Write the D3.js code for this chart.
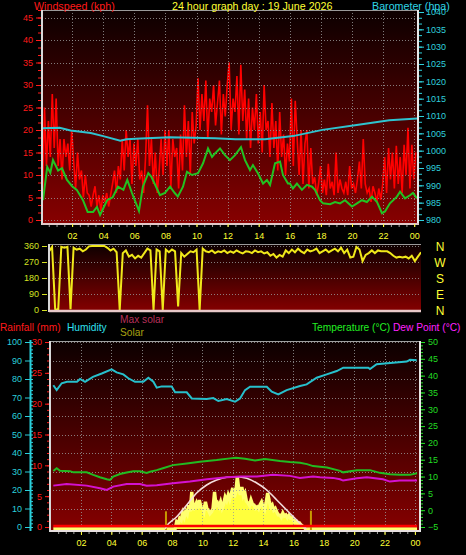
<!DOCTYPE html>
<html><head><meta charset="utf-8">
<script src="https://cdn.jsdelivr.net/npm/d3@7/dist/d3.min.js"></script>
<style>html,body{margin:0;padding:0;background:#000;overflow:hidden}svg{display:block}</style>
</head><body>
<svg id="c" width="466" height="555"></svg>
<script>
// ---------------- DATA ----------------
const hourTicks = [2,4,6,8,10,12,14,16,18,20,22,24];
const hourLabels = ["02","04","06","08","10","12","14","16","18","20","22","00"];

// wind gust (kph), every 0.125 h starting 0.1 h
const gustStart = 0.1, gustStep = 0.125;
const windGust = [
 5,25,12,22,14,28,16,27,
 12,18,9,18,14,17,11,20,
 13,7,15,9,11,5,10,6,
 5.5,3,5.5,7.5,3,5.5,2,5.5,
 4,6,3,5.5,8,11,6,12,
 9,18,11,20,14,18,8,17,
 12,18,9,11,6,14,25.5,12,
 18,8,15,6,11,18,10,20,
 12,20,7,18,14,16,7,19,
 11,25.5,14,22,10,24,17,21,
 31.5,20,28,22,31,18,27,24,
 30,21,26,31,19,28,23,30,
 35,20,27,24,32,19,34.5,22,
 29,18,27,16,25,20,28,17,
 24,15,30,20,22,14,26,16,
 22,11,24,14,19,10,17,13,
 27,12,26.5,18,10,20,8,17,
 20,7,16,8,9.5,5.5,8,12,
 6,9,5.5,12.5,7,8.5,5.5,15,
 6,9,7,6,8.5,5.5,12,7,
 8,6,9,13,7,18,8,6,
 7,4,7.5,6,4,7,4.5,8,
 14,6,16,9,15,7,16.5,8,
 14,6,16.7,10,20.5,7,16.7,9,
 15];

// average wind speed (kph)
const avgWindHours = [0.13,0.4,0.6,0.77,1.1,1.35,1.67,2.0,2.3,2.7,3.0,3.35,3.6,3.8,4.25,4.6,4.95,5.3,5.55,5.85,6.2,6.3,6.55,6.9,7.1,7.45,7.65,
 7.97,8.3,8.6,8.8,9.13,9.39,9.71,10.1,10.42,10.74,11.0,11.19,11.51,11.83,12.15,12.48,12.86,13.12,13.44,13.63,13.95,14.28,14.53,14.73,15.05,15.37,15.56,15.88,
 16.01,16.2,16.46,16.78,17.1,17.43,17.62,17.94,18.14,18.59,18.91,19.23,19.55,20.0,20.32,20.64,20.96,21.29,21.61,21.93,22.12,22.44,22.89,23.09,23.41,23.73,23.92,24.18];
const avgWind = [4.4,11.8,10.5,13.3,11,11.5,8.9,7.5,6.7,4.4,1.8,1.8,2.9,1.1,4.4,5,7.4,6.7,8.9,6,2.9,2,7.4,10.4,9.6,7,5.5,
 6,7.4,6,5.2,7.4,10.7,10,10.4,12.6,15.9,14,14.8,15.9,14.4,13.3,14.4,16.2,13.3,11.1,12.2,10.4,8.1,8.9,7.8,12.6,13,10,8.1,
 8.1,7,8.1,6.7,7.8,7.4,6.7,4.4,3.7,3.5,4,3.7,4.4,3,3.7,4.4,4,5.2,4,1.5,1.9,3.7,5.2,6.3,4.8,5.5,6,4.8];

// barometer (hPa)
const baroHours = [0.1,1.2,1.9,3.2,4.0,5.1,5.5,6.4,8.3,11.2,12.5,14.4,16.2,18.1,20.3,22.4,24.2];
const baro = [1006.5,1006.6,1005.8,1005.1,1004.2,1002.9,1003.3,1003.5,1003.9,1003.6,1003.3,1003.3,1004.2,1006,1007.4,1008.8,1009.3];

// wind direction (deg), every 0.2 h from 0
const dirStep = 0.2;
const windDir = [
 330,355,5,0,355,350,355,5,350,340,
 345,330,340,358,360,360,360,360,360,350,
 335,345,325,0,320,335,300,310,290,305,
 295,320,345,335,0,340,330,0,340,325,
 340,330,20,320,300,315,330,325,340,0,
 345,330,325,335,320,330,325,335,320,330,
 322,335,325,318,330,328,320,335,325,330,
 318,325,305,315,295,310,300,335,320,340,
 325,345,330,320,340,330,335,345,320,330,
 340,325,335,345,330,350,320,340,295,300,
 355,340,275,310,320,335,320,335,330,330,
 330,320,305,295,300,295,300,290,305,275,
 300,325];
const compassLabels = ["N","W","S","E","N"];
const compassDegrees = [360,270,180,90,0];

// humidity (%)
const humHours = [0.18,0.4,0.73,1.08,1.74,1.94,2.27,2.79,3.37,4.02,4.35,4.79,5.12,5.56,6.11,6.44,6.77,6.99,7.32,7.98,8.2,8.97,9.3,10.28,10.72,11.05,11.6,12.15,12.48,12.81,13.14,14.24,14.57,15.0,15.55,16.43,16.87,17.53,18.19,18.85,19.28,20.93,21.04,21.48,23.46,23.68,24.12];
const humidity = [76.6,74,77.7,78.5,78.5,80,78.5,81.2,83,85.2,83.6,82.5,80.4,78.5,78.5,80.7,78.5,75.3,76,76,72.8,72.8,69.5,69.2,69.7,68.1,69.2,67.7,69.5,74,75.8,75.8,73.1,71.7,74,76.2,77.1,80.7,82.5,84.3,86.1,86.1,85.4,88,89.4,90.4,90.2];

// temperature (°C)
const tempHours = [0.18,0.4,0.62,1.28,1.5,2.38,2.81,3.25,3.7,3.91,4.13,4.57,5.01,5.45,5.89,6.33,6.55,6.99,7.4,8.06,8.97,9.84,10.94,11.82,12.21,12.81,13.47,14.12,15.11,15.77,16.43,16.89,17.29,18.21,19.07,19.27,20.18,21.04,21.69,22.35,23.0,23.66,24.14];
const temperature = [11.65,12.45,11.7,11.6,11.25,11.25,10.5,9.8,9.2,9.0,10,10.75,11.2,11.6,11.6,11.1,11.4,11.9,12.45,13.4,13.9,14.4,14.9,15.4,15.6,15.3,14.8,15.2,14.6,14.3,14.1,13.7,13.1,12.7,11.7,11.25,11.9,11.9,11.1,10.7,10.5,10.5,11];

// dew point (°C)
const dewHours = [0.18,1.06,2.38,3.25,3.7,4.13,5.01,5.89,6.33,6.99,8.06,9.18,10.3,11.62,12.48,13.6,14.65,15.77,16.43,17.29,17.75,18.6,19.07,19.27,20.18,20.84,21.9,22.35,23.0,24.14];
const dewPoint = [7.3,7.8,7.3,6.5,6.0,7.0,7.8,7.8,7.3,7.4,8,8.5,9.2,9.8,10,10,10.5,10.2,9.6,10,9.8,9.6,9.2,8.8,9.5,9.8,9.2,8.5,8.8,8.8];

// rainfall (mm)
const rainHours = [0.18,24.14];
const rainfall = [0,0];

// solar radiation (W/m2)
const solarHours = [0.18,8.1,8.2,8.3,8.4,8.5,8.6,8.7,8.8,8.9,
 9.0,9.1,9.2,9.3,9.4,9.5,9.6,9.7,9.8,9.9,
 10.0,10.1,10.2,10.3,10.4,10.5,10.6,10.7,10.8,10.9,
 11.0,11.1,11.2,11.3,11.4,11.5,11.6,11.7,11.8,11.9,
 12.0,12.1,12.2,12.3,12.4,12.5,12.6,12.7,12.8,12.9,
 13.0,13.1,13.2,13.3,13.4,13.5,13.6,13.7,13.8,13.9,
 14.0,14.1,14.2,14.3,14.4,14.5,14.6,14.7,14.8,14.9,
 15.0,15.1,15.2,15.3,15.4,15.5,15.6,15.7,15.8,15.9,
 16.0,16.1,16.2,16.3,16.4,16.5,16.6,16.7,16.8,16.9,24.14];
const solar = [0,0,0,120,90,180,150,270,200,300,
 250,400,300,630,320,380,440,350,490,380,
 370,300,460,340,320,260,290,350,630,400,
 440,380,460,356,420,540,480,576,500,600,
 695,540,620,881,661,580,712,560,610,470,
 441,400,492,420,407,350,373,340,410,458,
 380,330,450,610,480,373,407,320,350,288,
 240,237,200,271,220,237,190,230,186,190,
 150,119,130,90,100,68,50,30,0,0,0];
const solarSpikeHours = [7.6,17.15];
const solarSpike = [300,310];

// theoretical max solar (W/m2)
const maxSolarHours = [7.55,7.63,8.31,8.97,9.62,10.28,10.94,11.6,12.26,12.92,13.58,14.24,14.9,15.55,16.21,16.76,16.85];
const maxSolar = [0,39,208,407,610,746,831,876,886,859,780,661,492,322,153,17,0];

// ---------------- DRAWING ----------------
const FONT = "'Liberation Sans', Arial, sans-serif";
const svg = d3.select("#c");
const defs = svg.append("defs");
const grad = defs.append("linearGradient").attr("id","bg").attr("x1",0).attr("y1",0).attr("x2",0).attr("y2",1);
grad.append("stop").attr("offset","0%").attr("stop-color","#0c0000");
grad.append("stop").attr("offset","100%").attr("stop-color","#860000");

function panel(id, x0, y0, x1, y1) {
  defs.append("clipPath").attr("id", id).append("rect").attr("x", x0).attr("y", y0).attr("width", x1 - x0).attr("height", y1 - y0);
  svg.append("rect").attr("x", x0).attr("y", y0).attr("width", x1 - x0).attr("height", y1 - y0).attr("fill", "url(#bg)");
}
function styleAxis(g, color, size) {
  g.select(".domain").remove();
  g.selectAll("line").attr("stroke", color).attr("stroke-width", 1);
  g.selectAll("text").attr("fill", color).attr("font-family", FONT).attr("font-size", size);
  g.attr("font-family", FONT).attr("font-size", size);
}
function gridH(vals, y, x0, x1) {
  svg.append("g").selectAll("line").data(vals).join("line")
    .attr("x1", x0).attr("x2", x1).attr("y1", d => Math.round(y(d)) + 0.5).attr("y2", d => Math.round(y(d)) + 0.5)
    .attr("stroke", "#9a9a9a").attr("stroke-dasharray", "1,2").attr("stroke-width", 1).attr("opacity", 0.8);
}
function gridV(vals, x, y0, y1) {
  svg.append("g").selectAll("line").data(vals).join("line")
    .attr("y1", y0).attr("y2", y1).attr("x1", d => Math.round(x(d)) + 0.5).attr("x2", d => Math.round(x(d)) + 0.5)
    .attr("stroke", "#9a9a9a").attr("stroke-dasharray", "1,2").attr("stroke-width", 1).attr("opacity", 0.8);
}
function text(str, x, y, color, size, anchor) {
  return svg.append("text").attr("x", x).attr("y", y).attr("fill", color)
    .attr("font-family", FONT).attr("font-size", size).attr("text-anchor", anchor || "start").text(str);
}

// ===== TOP PANEL =====
const T = {x0: 42, y0: 10, x1: 418, y1: 223};
const xTop = d3.scaleLinear().domain([0, 24]).range([41, 414.2]);
const yWind = d3.scaleLinear().domain([0, 45]).range([220, 17.5]);
const yBaro = d3.scaleLinear().domain([980, 1040]).range([220, 12]);
panel("clipTop", T.x0, T.y0, T.x1, T.y1);

const gustData = windGust.map((v, i) => [gustStart + i * gustStep, v]);
svg.append("path").datum(gustData).attr("clip-path", "url(#clipTop)")
  .attr("d", d3.line().x(d => xTop(d[0])).y(d => yWind(d[1])))
  .attr("fill", "none").attr("stroke", "#ff0000").attr("stroke-width", 1.6).attr("stroke-linejoin", "miter");

gridH(d3.range(0, 46, 5), yWind, T.x0, T.x1);
gridV(hourTicks, xTop, T.y0, T.y1);

svg.append("path").datum(avgWindHours.map((h, i) => [h, avgWind[i]])).attr("clip-path", "url(#clipTop)")
  .attr("d", d3.line().x(d => xTop(d[0])).y(d => yWind(d[1])))
  .attr("fill", "none").attr("stroke", "#22c222").attr("stroke-width", 2);
svg.append("path").datum(baroHours.map((h, i) => [h, baro[i]])).attr("clip-path", "url(#clipTop)")
  .attr("d", d3.line().x(d => xTop(d[0])).y(d => yBaro(d[1])))
  .attr("fill", "none").attr("stroke", "#2fc3cf").attr("stroke-width", 2);

// frame
svg.append("line").attr("x1", T.x0).attr("x2", T.x1).attr("y1", T.y0 + 0.5).attr("y2", T.y0 + 0.5).attr("stroke", "#9a9a9a");
svg.append("line").attr("x1", T.x0).attr("x2", T.x0).attr("y1", T.y0).attr("y2", T.y1 + 2).attr("stroke", "#d8d8d8").attr("stroke-width", 2);
svg.append("line").attr("x1", T.x1).attr("x2", T.x1).attr("y1", T.y0).attr("y2", T.y1 + 2).attr("stroke", "#e8e8e8").attr("stroke-width", 2);
svg.append("line").attr("x1", T.x0).attr("x2", T.x1 + 1).attr("y1", T.y1 + 1).attr("y2", T.y1 + 1).attr("stroke", "#e0c8c8").attr("stroke-width", 2);

// axes top
let g = svg.append("g").attr("transform", `translate(${T.x0 - 1},0)`)
  .call(d3.axisLeft(yWind).tickValues(d3.range(0, 46, 5)).tickSize(5).tickPadding(3));
styleAxis(g, "#ff1a1a", 9);
g = svg.append("g").attr("transform", `translate(${T.x0 - 1},0)`)
  .call(d3.axisLeft(yWind).tickValues(d3.range(0, 46.7, 5 / 3)).tickSize(3).tickFormat(""));
styleAxis(g, "#ff1a1a", 9);
g = svg.append("g").attr("transform", `translate(${T.x1 + 1},0)`)
  .call(d3.axisRight(yBaro).tickValues(d3.range(980, 1041, 5)).tickSize(5).tickPadding(2).tickFormat(d3.format("d")));
styleAxis(g, "#2fd0dc", 9);
g = svg.append("g").attr("transform", `translate(${T.x1 + 1},0)`)
  .call(d3.axisRight(yBaro).tickValues(d3.range(980, 1040.5, 5 / 3)).tickSize(3).tickFormat(""));
styleAxis(g, "#2fd0dc", 9);
g = svg.append("g").attr("transform", `translate(0,${T.y1 + 2})`)
  .call(d3.axisBottom(xTop).tickValues(d3.range(0.5, 24.3, 0.5)).tickSize(2).tickFormat(""));
styleAxis(g, "#a0a0a0", 9);
g = svg.append("g").attr("transform", `translate(0,${T.y1 + 1})`)
  .call(d3.axisBottom(xTop).tickValues(hourTicks).tickSize(3).tickPadding(6).tickFormat((d, i) => hourLabels[i]));
styleAxis(g, "#ffff33", 9);

text("Windspeed (kph)", 34, 10, "#ff1a1a", 10.7);
text("24 hour graph day : 19 June 2026", 172, 10, "#ffff33", 10.7);
text("Barometer (hpa)", 372, 10, "#2fd6e6", 10.7);

// ===== DIRECTION PANEL =====
const D = {x0: 49, y0: 244, x1: 421, y1: 312};
const xDir = d3.scaleLinear().domain([0, 24.2]).range([49, 421]);
const yDir = d3.scaleLinear().domain([0, 360]).range([310, 246]);
panel("clipDir", D.x0, D.y0, D.x1, D.y1);
gridH([90, 180, 270, 360], yDir, D.x0, D.x1);
svg.append("path").datum(windDir.map((v, i) => [i * dirStep, v])).attr("clip-path", "url(#clipDir)")
  .attr("d", d3.line().x(d => xDir(d[0])).y(d => yDir(d[1])))
  .attr("fill", "none").attr("stroke", "#f0e81a").attr("stroke-width", 2);
svg.append("line").attr("x1", D.x0).attr("x2", D.x1).attr("y1", D.y0 + 0.5).attr("y2", D.y0 + 0.5).attr("stroke", "#9a9a9a");
svg.append("line").attr("x1", D.x0).attr("x2", D.x0).attr("y1", D.y0).attr("y2", D.y1).attr("stroke", "#d8d8d8").attr("stroke-width", 2);
svg.append("line").attr("x1", D.x0).attr("x2", D.x1).attr("y1", D.y1 - 1).attr("y2", D.y1 - 1).attr("stroke", "#e8c8c8").attr("stroke-width", 2.5);
g = svg.append("g").attr("transform", `translate(${D.x0 - 2},0)`)
  .call(d3.axisLeft(yDir).tickValues([0, 90, 180, 270, 360]).tickSize(5).tickPadding(3));
styleAxis(g, "#d4e020", 9);
svg.append("g").selectAll("text").data(compassLabels).join("text")
  .attr("x", 440).attr("y", (d, i) => yDir(compassDegrees[i]) + 5)
  .attr("text-anchor", "middle").attr("fill", "#ffff33").attr("font-family", FONT).attr("font-size", 12).text(d => d);

// ===== BOTTOM PANEL =====
const B = {x0: 50, y0: 341, x1: 420, y1: 531};
const xBot = d3.scaleLinear().domain([0, 24]).range([50.6, 414.9]);
const yHum = d3.scaleLinear().domain([0, 100]).range([527, 342]);
const yRain = d3.scaleLinear().domain([0, 30]).range([527, 342]);
const yTemp = d3.scaleLinear().domain([-5, 50]).range([527, 342]);
const ySolar = d3.scaleLinear().domain([0, 1000]).range([529, 470]);
panel("clipBot", B.x0, B.y0, B.x1, B.y1);

const solarData = solarHours.map((h, i) => [h, solar[i]]);
svg.append("path").datum(solarData).attr("clip-path", "url(#clipBot)")
  .attr("d", d3.area().x(d => xBot(d[0])).y0(ySolar(0)).y1(d => ySolar(d[1])))
  .attr("fill", "#ffff3c");
svg.append("path").datum(solarData).attr("clip-path", "url(#clipBot)")
  .attr("d", d3.line().x(d => xBot(d[0])).y(d => ySolar(d[1])))
  .attr("fill", "none").attr("stroke", "#ffff70").attr("stroke-width", 3.4);
svg.append("g").selectAll("line").data(solarSpikeHours).join("line")
  .attr("x1", d => xBot(d)).attr("x2", d => xBot(d)).attr("y1", ySolar(0) + 1).attr("y2", (d, i) => ySolar(solarSpike[i]))
  .attr("stroke", "#c89a00").attr("stroke-width", 2);

gridH(d3.range(10, 101, 10), yHum, B.x0, B.x1);
gridV(hourTicks, xBot, B.y0, B.y1 - 4);

svg.append("path").datum(maxSolarHours.map((h, i) => [h, maxSolar[i]])).attr("clip-path", "url(#clipBot)")
  .attr("d", d3.line().x(d => xBot(d[0])).y(d => ySolar(d[1])).curve(d3.curveMonotoneX))
  .attr("fill", "none").attr("stroke", "#f4dcdc").attr("stroke-width", 1.6);

svg.append("path").datum(rainHours.map((h, i) => [h, rainfall[i]])).attr("clip-path", "url(#clipBot)")
  .attr("d", d3.line().x(d => xBot(d[0])).y(d => yRain(d[1]) - 1))
  .attr("fill", "none").attr("stroke", "#ff0000").attr("stroke-width", 2.4);

svg.append("path").datum(humHours.map((h, i) => [h, humidity[i]])).attr("clip-path", "url(#clipBot)")
  .attr("d", d3.line().x(d => xBot(d[0])).y(d => yHum(d[1])))
  .attr("fill", "none").attr("stroke", "#27c0cc").attr("stroke-width", 2);
svg.append("path").datum(tempHours.map((h, i) => [h, temperature[i]])).attr("clip-path", "url(#clipBot)")
  .attr("d", d3.line().x(d => xBot(d[0])).y(d => yTemp(d[1])))
  .attr("fill", "none").attr("stroke", "#22bb22").attr("stroke-width", 2);
svg.append("path").datum(dewHours.map((h, i) => [h, dewPoint[i]])).attr("clip-path", "url(#clipBot)")
  .attr("d", d3.line().x(d => xBot(d[0])).y(d => yTemp(d[1])))
  .attr("fill", "none").attr("stroke", "#d412cf").attr("stroke-width", 2);

svg.append("line").attr("x1", B.x0).attr("x2", B.x1).attr("y1", B.y0 + 0.5).attr("y2", B.y0 + 0.5).attr("stroke", "#a0a0a0");
svg.append("line").attr("x1", B.x0).attr("x2", B.x0).attr("y1", B.y0).attr("y2", B.y1 + 1).attr("stroke", "#d8d8d8").attr("stroke-width", 2);
svg.append("line").attr("x1", B.x1).attr("x2", B.x1).attr("y1", B.y0).attr("y2", B.y1 + 1).attr("stroke", "#e8e8e8").attr("stroke-width", 2);
svg.append("line").attr("x1", B.x0).attr("x2", B.x1).attr("y1", B.y1).attr("y2", B.y1).attr("stroke", "#e8e0e0").attr("stroke-width", 2);

// humidity axis
svg.append("line").attr("x1", 30.5).attr("x2", 30.5).attr("y1", 340).attr("y2", 531).attr("stroke", "#2ad0dc").attr("stroke-width", 2);
g = svg.append("g").attr("transform", "translate(30,0)")
  .call(d3.axisLeft(yHum).tickValues(d3.range(0, 101, 10)).tickSize(5).tickPadding(3));
styleAxis(g, "#2ad0dc", 9);
g = svg.append("g").attr("transform", "translate(31,0)")
  .call(d3.axisRight(yHum).tickValues(d3.range(0, 101, 2)).tickSize(2).tickFormat(""));
styleAxis(g, "#2ad0dc", 9);
// rain axis
g = svg.append("g").attr("transform", `translate(${B.x0 - 1},0)`)
  .call(d3.axisLeft(yRain).tickValues(d3.range(0, 31, 5)).tickSize(4).tickPadding(3));
styleAxis(g, "#ff1a1a", 9);
g = svg.append("g").attr("transform", `translate(${B.x0 - 1},0)`)
  .call(d3.axisLeft(yRain).tickValues(d3.range(0, 31, 1)).tickSize(2).tickFormat(""));
styleAxis(g, "#ff1a1a", 9);
// temperature axis
g = svg.append("g").attr("transform", `translate(${B.x1 + 1},0)`)
  .call(d3.axisRight(yTemp).tickValues(d3.range(-5, 51, 5)).tickSize(4).tickPadding(3));
styleAxis(g, "#22dd22", 9);
g = svg.append("g").attr("transform", `translate(${B.x1 + 1},0)`)
  .call(d3.axisRight(yTemp).tickValues(d3.range(-5, 51, 1)).tickSize(2).tickFormat(""));
styleAxis(g, "#22dd22", 9);
// x axis
g = svg.append("g").attr("transform", `translate(0,${B.y1 + 1})`)
  .call(d3.axisBottom(xBot).tickValues(d3.range(0.5, 24.3, 0.5)).tickSize(2).tickFormat(""));
styleAxis(g, "#a0a0a0", 9);
g = svg.append("g").attr("transform", `translate(0,${B.y1 + 1})`)
  .call(d3.axisBottom(xBot).tickValues(hourTicks).tickSize(3).tickPadding(5).tickFormat((d, i) => hourLabels[i]));
styleAxis(g, "#ffff33", 9);

text("Rainfall (mm)", 0, 331, "#ff1a1a", 10.2);
text("Humidity", 67, 331, "#2fe0f0", 10.2);
text("Max solar", 120, 323, "#b8305a", 10.2);
text("Solar", 120, 336, "#a8a010", 10.2);
text("Temperature (°C)", 312, 331, "#22ee22", 10.2);
text("Dew Point (°C)", 393, 331, "#ff22ff", 10.2);
</script>
</body></html>
